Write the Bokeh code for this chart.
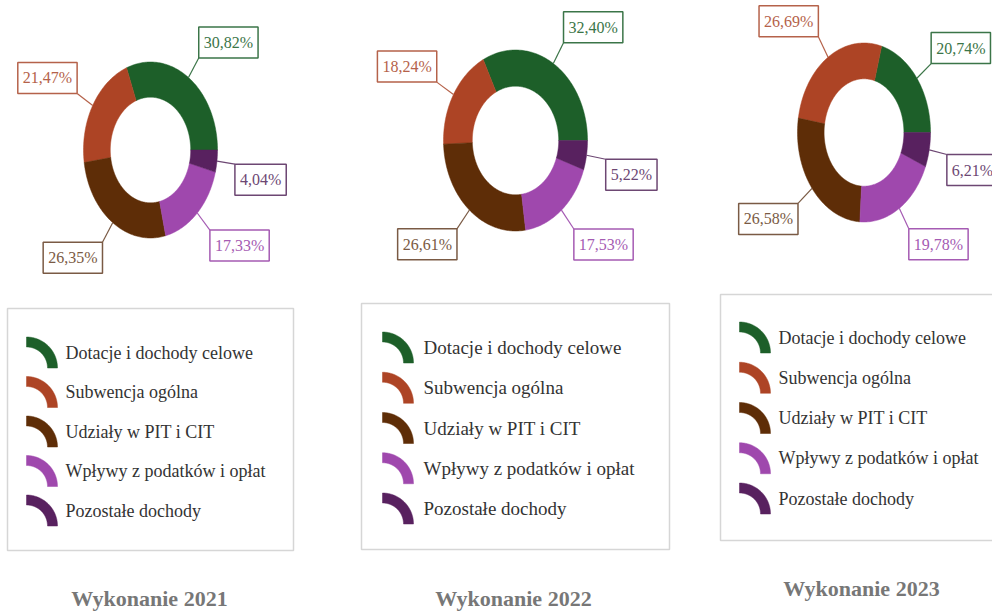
import numpy as np
from bokeh.plotting import figure
from bokeh.models import Range1d
from bokeh.embed import file_html
from bokeh.resources import INLINE
from bokeh.core.properties import value

# ---------------- data ----------------
categories = ["Dotacje i dochody celowe", "Subwencja ogólna", "Udziały w PIT i CIT",
              "Wpływy z podatków i opłat", "Pozostałe dochody"]
titles = ["Wykonanie 2021", "Wykonanie 2022", "Wykonanie 2023"]
share_2021 = [30.82, 21.47, 26.35, 17.33, 4.04]
share_2022 = [32.40, 18.24, 26.61, 17.53, 5.22]
share_2023 = [20.74, 26.69, 26.58, 19.78, 6.21]
shares = [share_2021, share_2022, share_2023]

# ---------------- styles ----------------
slice_colors = ["#1d5f29", "#ad4425", "#5e2d07", "#9f48ad", "#58215f"]
label_colors = ["#3b7548", "#b5624a", "#7a5a44", "#a55bb3", "#6d4773"]
FONT = "Liberation Serif"

# ---------------- layout (picture pixel coordinates) ----------------
W, H = 992, 612
panels = [
    dict(cx=150, cy=149.5, rx=67, ry=88, box=(7, 293, 308, 550), icon_x=26, text_x=65,
         row0=352, step=39.5, tx=149, ty=598, lfs="18px"),
    dict(cx=515, cy=140, rx=72, ry=90.5, box=(361, 669, 303, 549), icon_x=382, text_x=423,
         row0=347, step=40.25, tx=513, ty=598, lfs="19px"),
    dict(cx=863.5, cy=132, rx=66.5, ry=89.5, box=(720, 1010, 294, 540), icon_x=739, text_x=778,
         row0=337, step=40.25, tx=861, ty=588, lfs="18px"),
]
INNER = 0.6
LEAD_END = 1.27

p = figure(width=W, height=H, x_range=Range1d(0, W), y_range=Range1d(H, 0),
           output_backend="svg", toolbar_location=None, x_axis_type=None, y_axis_type=None,
           min_border=0, background_fill_color="white", border_fill_color="white")
p.outline_line_color = None
p.xgrid.visible = False
p.ygrid.visible = False


def ring_patch(cx, cy, rx, ry, rin_x, rin_y, a0, a1):
    t = np.linspace(a0, a1, max(8, int(abs(a1 - a0) * 60)))
    xo = cx + rx * np.cos(t)
    yo = cy - ry * np.sin(t)
    xi = cx + rin_x * np.cos(t[::-1])
    yi = cy - rin_y * np.sin(t[::-1])
    return list(np.concatenate([xo, xi])), list(np.concatenate([yo, yi]))


for pi, (vals, L) in enumerate(zip(shares, panels)):
    cx, cy, rx, ry = L["cx"], L["cy"], L["rx"], L["ry"]
    fr = np.array(vals) / sum(vals)
    ends = np.cumsum(fr) * 2 * np.pi
    starts = ends - fr * 2 * np.pi
    xs, ys = [], []
    for a0, a1 in zip(starts, ends):
        x, y = ring_patch(cx, cy, rx, ry, rx * INNER, ry * INNER, a0, a1)
        xs.append(x)
        ys.append(y)
    p.patches(xs=xs, ys=ys, fill_color=slice_colors, line_color=slice_colors, line_width=0.5)

    # labels with leader lines
    for i, (a0, a1, v) in enumerate(zip(starts, ends, vals)):
        m = (a0 + a1) / 2
        x0, y0 = cx + rx * 1.0 * np.cos(m), cy - ry * 1.0 * np.sin(m)
        x1, y1 = cx + rx * LEAD_END * np.cos(m), cy - ry * LEAD_END * np.sin(m)
        p.line(x=[x0, x1], y=[y0, y1], line_color=label_colors[i], line_width=1.2)
        vert = "bottom" if np.sin(m) > 0 else "top"
        hor = "left" if np.cos(m) > 0 else "right"
        txt = f"{v:.2f}".replace(".", ",") + "%"
        p.text(x=[x1], y=[y1], text=[txt], anchor=f"{vert}_{hor}",
               text_font=value(FONT), text_font_size="16px", text_color=label_colors[i],
               padding=(5, 7), border_line_color=label_colors[i], border_line_width=1.5,
               background_fill_color="white")

    # legend box
    x_l, x_r, y_t, y_b = L["box"]
    p.quad(left=[x_l], right=[x_r], top=[y_t], bottom=[y_b], fill_color=None,
           line_color="#d6d6d6", line_width=1.5)
    for i, cat in enumerate(categories):
        rc = L["row0"] + i * L["step"]
        icx, icy = L["icon_x"], rc + 15.5
        x, y = ring_patch(icx, icy, 31, 31, 21, 21, 0, np.pi / 2)
        p.patch(x=x, y=y, fill_color=slice_colors[i], line_color=slice_colors[i], line_width=0.5)
        p.text(x=[L["text_x"]], y=[rc], text=[cat], text_font=value(FONT),
               text_font_size=L["lfs"], text_color="#333333", text_baseline="middle",
               text_align="left")

    # title
    p.text(x=[L["tx"]], y=[L["ty"]], text=[titles[pi]], text_font=value(FONT),
           text_font_size="22px", text_font_style="bold", text_color="#777777",
           text_align="center", text_baseline="middle")

open("out.html", "w").write(file_html(p, INLINE))
